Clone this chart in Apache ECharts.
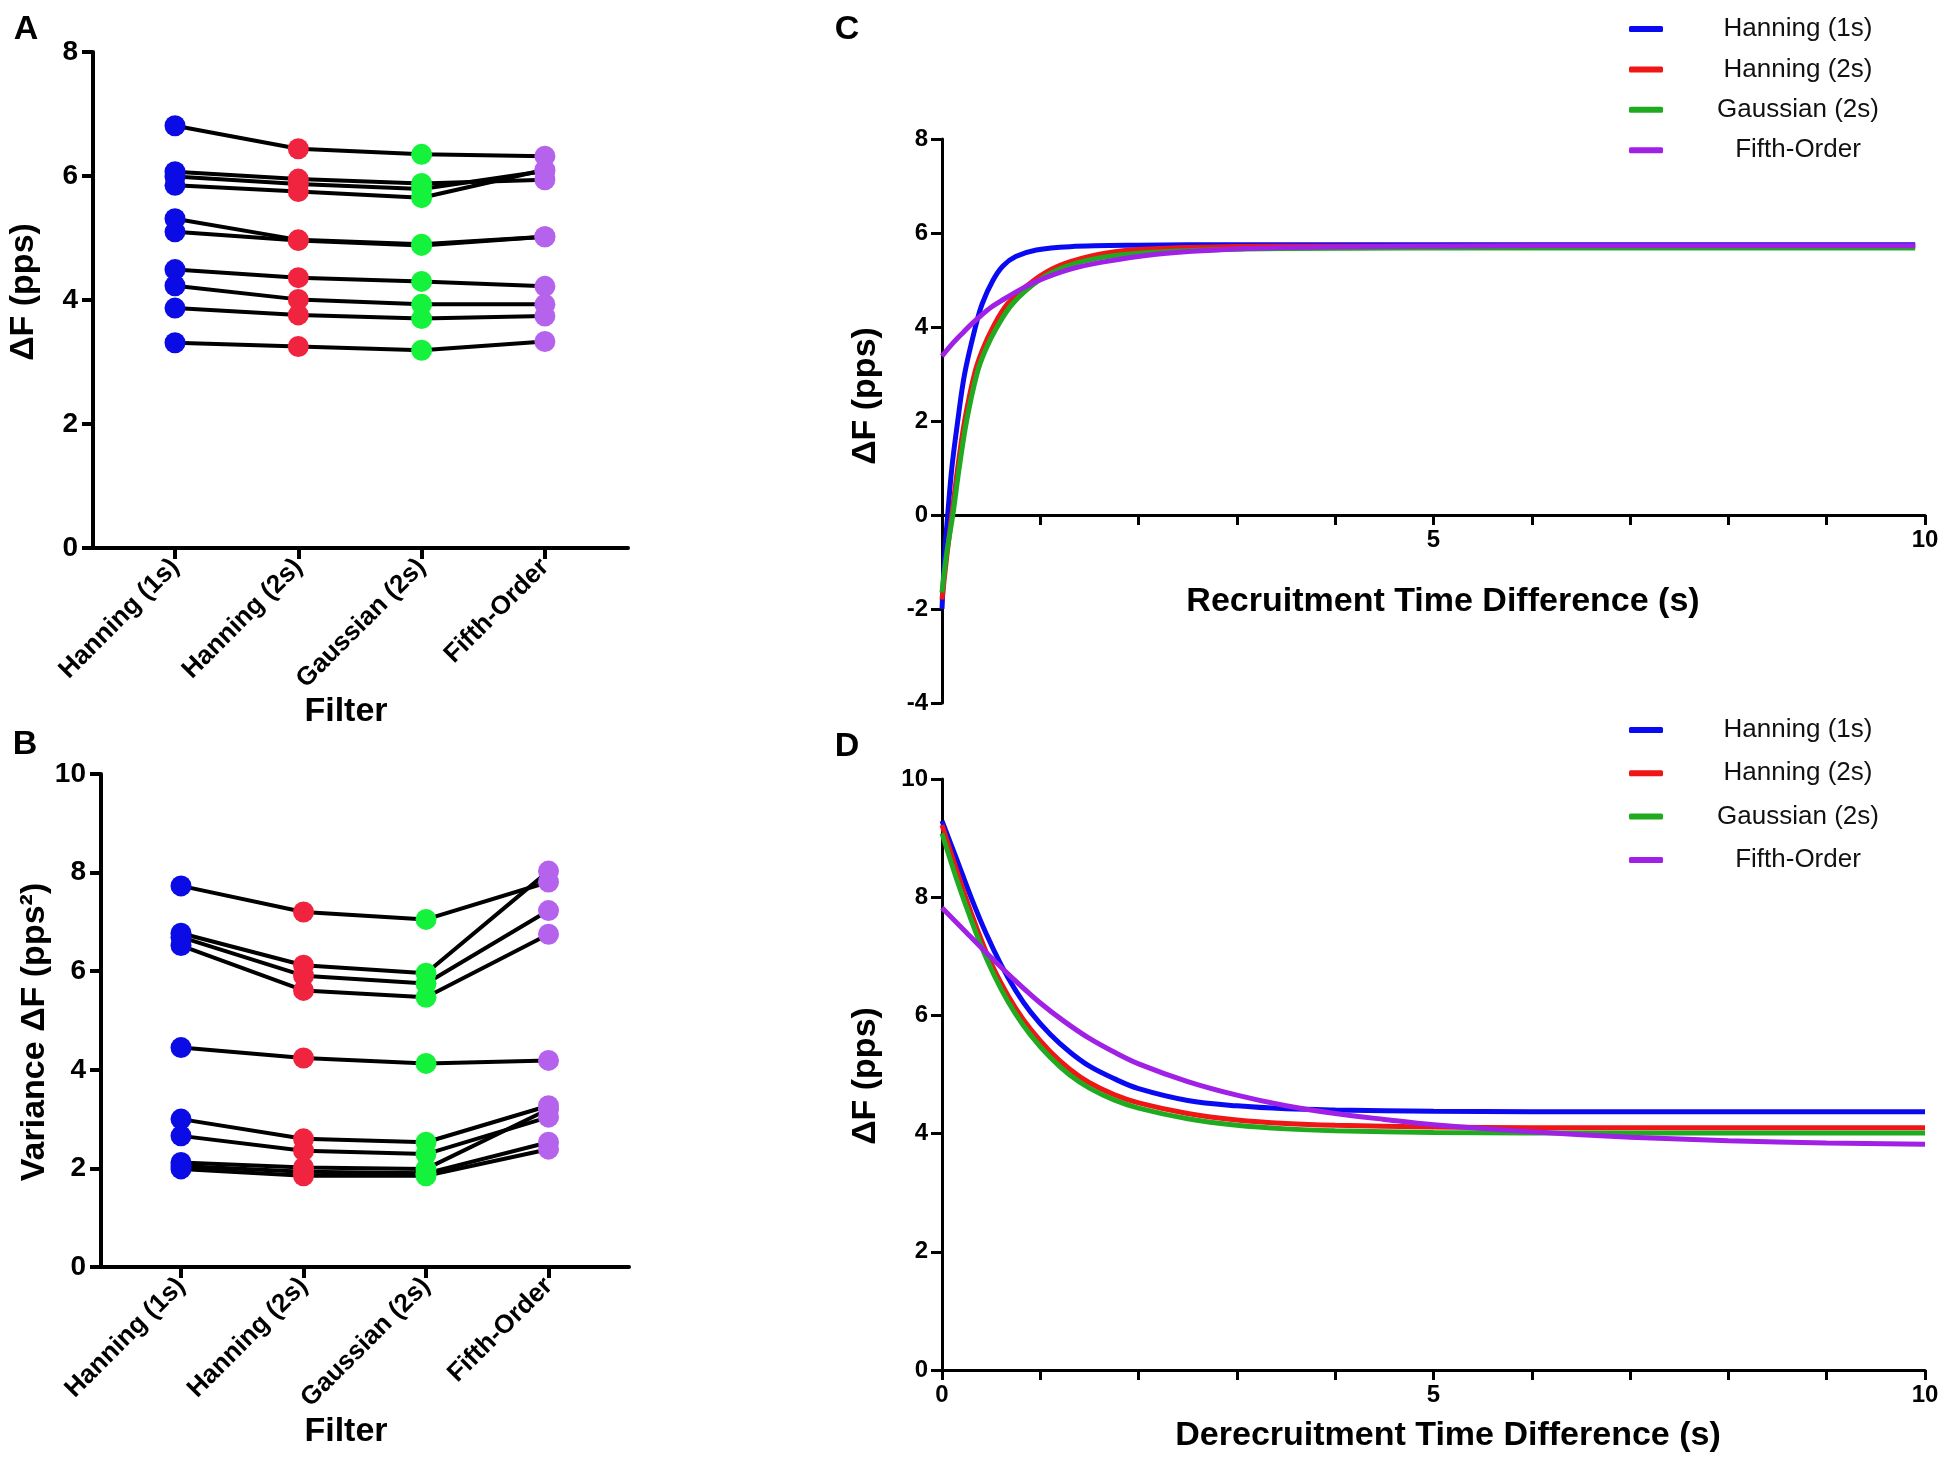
<!DOCTYPE html>
<html>
<head>
<meta charset="utf-8">
<script src="https://cdn.jsdelivr.net/npm/echarts@6/dist/echarts.min.js"></script>
<style>
html,body{margin:0;padding:0;background:#fff;}
#chart{width:1950px;height:1459px;}
</style>
</head>
<body>
<div id="chart"></div>
<script>
// ---------- DATA ----------
const filters = ['Hanning (1s)', 'Hanning (2s)', 'Gaussian (2s)', 'Fifth-Order'];

// Panel A: ΔF (pps) per subject, by filter
const aHan1  = [6.81, 6.07, 5.99, 5.85, 5.31, 5.10, 4.49, 4.23, 3.87, 3.31];
const aHan2  = [6.44, 5.95, 5.87, 5.75, 4.97, 4.96, 4.36, 4.01, 3.76, 3.25];
const aGau2  = [6.35, 5.88, 5.79, 5.65, 4.90, 4.88, 4.30, 3.93, 3.70, 3.19];
const aFifth = [6.32, 5.94, 6.08, 6.10, 5.02, 5.02, 4.22, 3.93, 3.74, 3.33];

// Panel B: Variance ΔF (pps^2) per subject, by filter
const bHan1  = [7.73, 6.77, 6.69, 6.52, 4.45, 3.00, 2.66, 2.12, 2.05, 1.99];
const bHan2  = [7.20, 6.12, 5.91, 5.61, 4.24, 2.60, 2.36, 2.02, 1.93, 1.85];
const bGau2  = [7.05, 5.96, 5.75, 5.47, 4.13, 2.53, 2.29, 1.99, 1.90, 1.85];
const bFifth = [7.81, 8.03, 7.23, 6.75, 4.19, 3.27, 3.04, 3.20, 2.53, 2.39];

// Panel C: ΔF vs recruitment time difference (s)
const cHan1 = [[0,-2.0],[0.03,-0.75],[0.058,0],[0.1,1.0],[0.16,2.0],[0.23,3.0],[0.34,4.0],[0.41,4.5],[0.52,5.0],[0.62,5.3],[0.75,5.5],[0.96,5.64],[1.3,5.71],[2,5.74],[3,5.75],[6,5.75],[9.9,5.75]];
const cHan2 = [[0,-1.8],[0.05,-0.85],[0.1,0],[0.16,1.0],[0.23,2.0],[0.33,3.0],[0.41,3.5],[0.52,4.0],[0.67,4.5],[0.94,5.0],[1.19,5.3],[1.5,5.5],[1.84,5.62],[2.5,5.69],[3.5,5.72],[6,5.72],[9.9,5.72]];
const cGau2 = [[0,-1.65],[0.05,-0.78],[0.11,0],[0.175,1.0],[0.25,2.0],[0.355,3.0],[0.44,3.5],[0.56,4.0],[0.72,4.5],[0.99,5.0],[1.25,5.28],[1.6,5.47],[2,5.57],[2.7,5.64],[3.5,5.67],[6,5.68],[9.9,5.68]];
const cFifth = [[0,3.38],[0.1,3.63],[0.2,3.85],[0.3,4.06],[0.4,4.25],[0.5,4.42],[0.62,4.58],[0.8,4.8],[0.96,4.97],[1.29,5.22],[1.63,5.38],[2.18,5.55],[2.7,5.63],[3.5,5.69],[5,5.72],[7,5.73],[9.9,5.73]];

// Panel D: ΔF vs derecruitment time difference (s)
const dHan1 = [[0,9.29],[0.15,8.64],[0.3,7.98],[0.45,7.38],[0.6,6.86],[0.75,6.42],[0.9,6.06],[1.1,5.68],[1.3,5.38],[1.5,5.14],[1.75,4.93],[2.0,4.76],[2.5,4.56],[3.0,4.47],[3.5,4.42],[4.0,4.40],[5,4.38],[6,4.37],[10,4.37]];
const dHan2 = [[0,9.22],[0.15,8.45],[0.3,7.72],[0.45,7.07],[0.6,6.55],[0.75,6.12],[0.9,5.77],[1.1,5.39],[1.3,5.09],[1.5,4.86],[1.75,4.66],[2.0,4.52],[2.5,4.34],[3,4.23],[3.5,4.17],[4,4.14],[5,4.11],[6,4.10],[10,4.10]];
const dGau2 = [[0,9.08],[0.15,8.3],[0.3,7.6],[0.45,6.97],[0.6,6.45],[0.75,6.02],[0.9,5.67],[1.1,5.29],[1.3,4.99],[1.5,4.77],[1.75,4.57],[2.0,4.43],[2.5,4.25],[3,4.14],[3.5,4.08],[4,4.05],[5,4.02],[6,4.01],[10,4.01]];
const dFifth = [[0,7.82],[0.25,7.40],[0.5,6.98],[0.75,6.58],[1.0,6.21],[1.25,5.89],[1.5,5.61],[1.75,5.38],[2.0,5.18],[2.5,4.88],[3.0,4.65],[3.5,4.47],[4.0,4.34],[4.5,4.24],[5.0,4.15],[6,4.03],[7,3.94],[8,3.88],[9,3.84],[10,3.82]];

// ---------- STYLE ----------
const FONT = '"Liberation Sans", Arial, sans-serif';
const markerColors = ['#0b0be6', '#f0243f', '#14f23c', '#b563ec'];
const curveColors  = ['#0a0af2', '#f01616', '#20aa20', '#a020e6'];

const chart = echarts.init(document.getElementById('chart'), null, {renderer: 'canvas'});

function lbl(size, extra) {
  return Object.assign({fontFamily: FONT, fontWeight: 'bold', fontSize: size, color: '#000'}, extra || {});
}

function catXAxis(grid, min, max) {
  return {
    type: 'value', gridIndex: grid, min: min, max: max,
    axisLine: {show: true, onZero: false, lineStyle: {color: '#000', width: 4}},
    axisTick: {show: true, customValues: [0,1,2,3], length: 11, lineStyle: {color: '#000', width: 4}},
    axisLabel: lbl(26, {show: true, customValues: [0,1,2,3], rotate: 45, margin: 15,
      formatter: v => filters[Math.round(v)] || ''}),
    splitLine: {show: false}
  };
}
function pairYAxis(grid, max) {
  return {
    type: 'value', gridIndex: grid, min: 0, max: max, interval: 2,
    axisLine: {show: true, onZero: false, lineStyle: {color: '#000', width: 4}},
    axisTick: {show: true, length: 11, lineStyle: {color: '#000', width: 4}},
    axisLabel: lbl(28, {margin: 15}),
    splitLine: {show: false}
  };
}
function timeXAxis(grid, showZero, offset) {
  return {
    type: 'value', gridIndex: grid, min: 0, max: 10, interval: 1, offset: offset,
    axisLine: {show: true, onZero: false, lineStyle: {color: '#000', width: 3}},
    axisTick: {show: true, length: 10, lineStyle: {color: '#000', width: 3}},
    axisLabel: lbl(24, {margin: 13,
      formatter: v => (v % 5 === 0 && (showZero || v !== 0)) ? String(v) : ''}),
    splitLine: {show: false}
  };
}
function timeYAxis(grid, min, max) {
  return {
    type: 'value', gridIndex: grid, min: min, max: max, interval: 2,
    axisLine: {show: true, onZero: false, lineStyle: {color: '#000', width: 3}},
    axisTick: {show: true, length: 11, lineStyle: {color: '#000', width: 3}},
    axisLabel: lbl(24, {margin: 14}),
    splitLine: {show: false}
  };
}

const series = [];
function addPaired(axis, cols, tag) {
  const n = cols[0].length;
  for (let i = 0; i < n; i++) {
    series.push({
      name: tag + '-line-' + i, type: 'line', xAxisIndex: axis, yAxisIndex: axis,
      data: cols.map((c, k) => [k, c[i]]), symbol: 'none', silent: true,
      lineStyle: {color: '#000', width: 4}, z: 2, animation: false
    });
  }
  cols.forEach((c, k) => {
    series.push({
      name: tag + '-' + filters[k], type: 'scatter', xAxisIndex: axis, yAxisIndex: axis,
      data: c.map(v => [k, v]), symbol: 'circle', symbolSize: 21, silent: true,
      itemStyle: {color: markerColors[k], opacity: 1}, z: 3, animation: false
    });
  });
}
addPaired(0, [aHan1, aHan2, aGau2, aFifth], 'A');
addPaired(1, [bHan1, bHan2, bGau2, bFifth], 'B');

function addCurves(axis, curves) {
  curves.forEach((d, k) => {
    series.push({
      name: filters[k], type: 'line', xAxisIndex: axis, yAxisIndex: axis,
      data: d, showSymbol: false, symbol: 'none', smooth: 0.35, silent: true,
      color: curveColors[k], lineStyle: {color: curveColors[k], width: 5},
      z: 2 + k * 0.01, animation: false
    });
  });
}
addCurves(2, [cHan1, cHan2, cGau2, cFifth]);
addCurves(3, [dHan1, dHan2, dGau2, dFifth]);

function legendAt(top, gap) {
  return {
    data: filters, orient: 'vertical', left: 1629, top: top, padding: 0,
    itemWidth: 34, itemHeight: 6, itemGap: gap, icon: 'roundRect',
    selectedMode: false,
    formatter: '{t|{name}}',
    textStyle: {rich: {t: {width: 260, align: 'center', fontFamily: FONT, fontSize: 26, lineHeight: 30, color: '#111'}}}
  };
}

function txt(s, x, y, size, rot) {
  return {type: 'text', x: x, y: y, rotation: rot || 0, silent: true,
    style: {text: s, font: 'bold ' + size + 'px ' + FONT, fill: '#000',
      align: 'center', verticalAlign: 'middle', textAlign: 'center', textVerticalAlign: 'middle'}};
}

const option = {
  backgroundColor: '#fff',
  animation: false,
  grid: [
    {left: 93, top: 52, width: 535, height: 496},
    {left: 101, top: 774, width: 528, height: 493},
    {left: 942, top: 139, width: 983, height: 564},
    {left: 942, top: 779, width: 983, height: 591}
  ],
  xAxis: [catXAxis(0, -0.665, 3.674), catXAxis(1, -0.653, 3.657), timeXAxis(2, false, -188), timeXAxis(3, true, 0)],
  yAxis: [pairYAxis(0, 8), pairYAxis(1, 10), timeYAxis(2, -4, 8), timeYAxis(3, 0, 10)],
  legend: [legendAt(16, 14.4), legendAt(717, 17.3)],
  series: series,
  graphic: [
    txt('A', 26, 30, 34), txt('B', 25, 745, 34), txt('C', 847, 30, 34), txt('D', 847, 747, 34),
    txt('ΔF (pps)', 24, 292, 34, Math.PI / 2),
    txt('Filter', 346, 712, 34),
    txt('Variance ΔF (pps²)', 35, 1032, 34, Math.PI / 2),
    txt('Filter', 346, 1432, 34),
    txt('ΔF (pps)', 866, 396, 34, Math.PI / 2),
    txt('Recruitment Time Difference (s)', 1443, 602, 34),
    txt('ΔF (pps)', 866, 1076, 34, Math.PI / 2),
    txt('Derecruitment Time Difference (s)', 1448, 1436, 34)
  ]
};
chart.setOption(option);
</script>
</body>
</html>
